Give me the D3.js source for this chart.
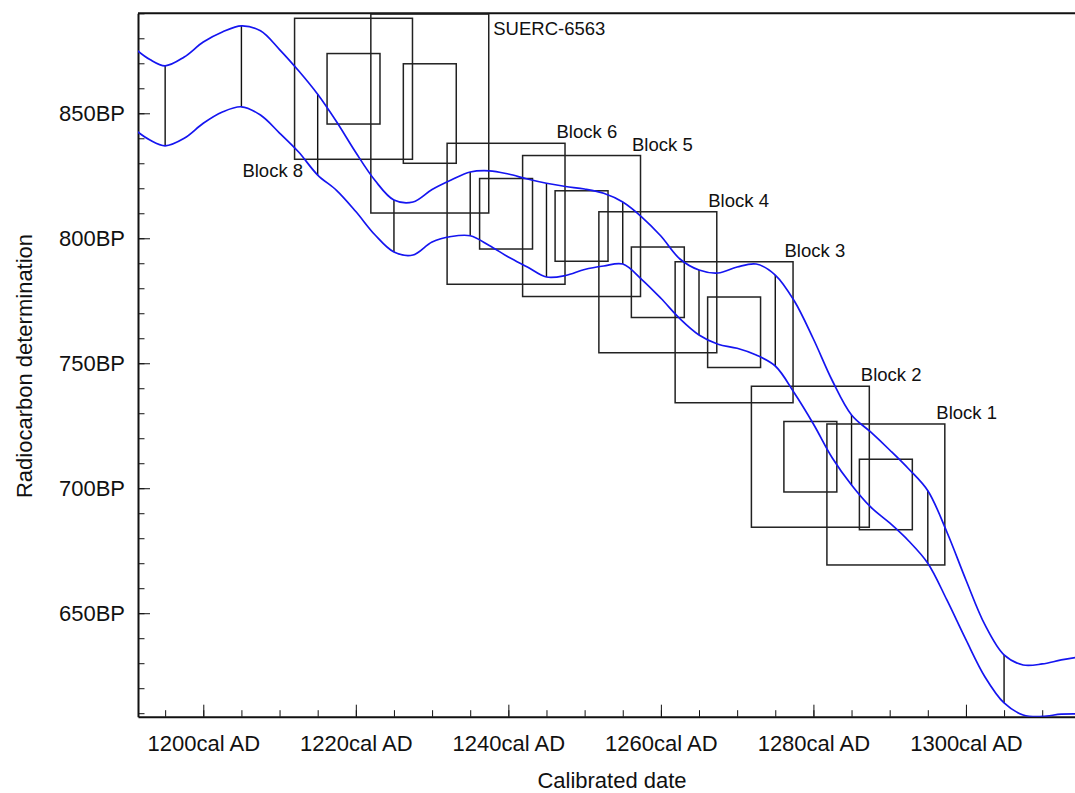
<!DOCTYPE html>
<html>
<head>
<meta charset="utf-8">
<script src="https://cdn.jsdelivr.net/npm/d3@7"></script>
<style>
  body { margin: 0; background: #fff; }
  svg { display: block; font-family: "Liberation Sans", Arial, sans-serif; }
  .axis path, .axis line { stroke: #111; }
  .axis text { font-size: 22px; fill: #111; }
</style>
</head>
<body>
<svg id="chart" width="1075" height="793"></svg>
<script>
// calibration curve envelope (cal AD / BP)
const curveYears = [1191, 1193, 1195, 1197.5, 1200, 1202.5, 1205, 1207.5, 1210, 1212.5, 1215,
    1217.5, 1220, 1222.5, 1225, 1227.5, 1230, 1232.5, 1235, 1237.5, 1240,
    1242.5, 1245, 1247.5, 1250, 1252.5, 1255, 1257.5, 1260, 1262.5, 1265,
    1267.5, 1270, 1272.5, 1275, 1277.5, 1280, 1282.5, 1285, 1287.5, 1290,
    1292.5, 1295, 1297.5, 1300, 1302.5, 1305, 1307.5, 1310, 1312.5, 1315];
const upperBP = [876, 871.5, 869, 872.5, 878.5, 882.5, 885, 883, 875.5, 867, 857.6,
    846.5, 834.3, 823.2, 815.3, 814.5, 819.5, 823.3, 826.5, 827, 825.7,
    823.7, 822, 820.7, 819.7, 818, 814.5, 808.5, 800.9, 791.7, 787.3,
    786.1, 788.5, 789.7, 785.3, 774.9, 759.7, 742.9, 729.3, 722.5, 715.3,
    707.7, 699, 682.5, 663.3, 645.3, 633.3, 629.3, 629.7, 631.3, 632.5];
const lowerBP = [843.5, 839.3, 837, 840, 846, 850.5, 852.6, 849.3, 842.1, 834.5, 825.3,
    819.1, 810.7, 801.4, 794.5, 793.3, 798.5, 800.7, 801, 797.1, 792.5,
    788.5, 784.5, 785.1, 787.5, 788.9, 789.7, 783.5, 776, 767.8, 761.3,
    757.6, 756, 753.3, 748.9, 738.1, 725.7, 712, 701.3, 692.5, 686.1,
    678.9, 670, 655.3, 639.4, 624.5, 614.1, 609.3, 608.7, 609.6, 609.7];
const sectionYears = [1195, 1205, 1215, 1225, 1235, 1245, 1255, 1265, 1275, 1285, 1295, 1305];

// measurement boxes
const boxLabels = ["Block 8", "SUERC-6563", "Block 6", "Block 5", "Block 4", "Block 3", "Block 2", "Block 1"];
const boxYear = [1219.7, 1229.7, 1239.7, 1249.6, 1259.6, 1269.6, 1279.6, 1289.5];
const boxBP = [859.8, 849.9, 809.8, 804.9, 782.4, 762.4, 712.6, 697.5];
const boxErrBP = [14.1, 19.9, 14.1, 14.1, 14.1, 14.1, 14.1, 14.1];
const innerYearHalf = 3.47;
const outerYearHalf = 7.73;
const labelSide = ["belowLeft", "right", "above", "above", "above", "above", "above", "above"];

// ticks
const xMajorTicks = [1200, 1220, 1240, 1260, 1280, 1300];
const xMinorTicks = [1195, 1200, 1205, 1210, 1215, 1220, 1225, 1230, 1235, 1240, 1245, 1250,
    1255, 1260, 1265, 1270, 1275, 1280, 1285, 1290, 1295, 1300, 1305, 1310];
const yMajorTicks = [650, 700, 750, 800, 850];
const yMinorTicks = [610, 620, 630, 640, 650, 660, 670, 680, 690, 700, 710, 720, 730, 740, 750,
    760, 770, 780, 790, 800, 810, 820, 830, 840, 850, 860, 870, 880, 890];

const svg = d3.select("#chart");
const plotLeft = 138, plotRight = 1075, plotTop = 13.3, plotBottom = 716.7;

const x = d3.scaleLinear().domain([1191.44, 1314.3]).range([plotLeft, plotRight]);
const y = d3.scaleLinear().domain([608.6, 890]).range([plotBottom, plotTop]);

svg.append("clipPath").attr("id", "plot")
    .append("rect")
    .attr("x", plotLeft).attr("y", plotTop)
    .attr("width", plotRight - plotLeft).attr("height", plotBottom - plotTop);

// minor ticks first, then major axes with labels
svg.append("g")
    .attr("class", "axis")
    .attr("transform", `translate(0,${plotBottom})`)
    .call(d3.axisBottom(x).tickValues(xMinorTicks).tickSize(-6.5).tickFormat(""))
    .call(g => g.select(".domain").remove());

svg.append("g")
    .attr("class", "axis")
    .attr("transform", `translate(${plotLeft},0)`)
    .call(d3.axisLeft(y).tickValues(yMinorTicks).tickSize(-6.5).tickFormat(""))
    .call(g => g.select(".domain").remove());

svg.append("g")
    .attr("class", "axis")
    .attr("transform", `translate(0,${plotBottom})`)
    .call(d3.axisBottom(x)
        .tickValues(xMajorTicks)
        .tickSizeInner(-12)
        .tickSizeOuter(0)
        .tickPadding(19)
        .tickFormat(d => d + "cal AD"))
    .call(g => g.select(".domain").attr("stroke-width", 2));

svg.append("g")
    .attr("class", "axis")
    .attr("transform", `translate(${plotLeft},0)`)
    .call(d3.axisLeft(y)
        .tickValues(yMajorTicks)
        .tickSizeInner(-12)
        .tickSizeOuter(0)
        .tickPadding(13)
        .tickFormat(d => d + "BP"))
    .call(g => g.select(".domain").attr("stroke-width", 2));

// top frame line
svg.append("line")
    .attr("x1", plotLeft).attr("x2", plotRight)
    .attr("y1", plotTop).attr("y2", plotTop)
    .attr("stroke", "#111")
    .attr("stroke-width", 2);

const plot = svg.append("g").attr("clip-path", "url(#plot)");

// section lines between the two envelopes
plot.append("g")
    .selectAll("line")
    .data(sectionYears)
    .join("line")
    .attr("x1", d => x(d)).attr("x2", d => x(d))
    .attr("y1", d => y(upperBP[curveYears.indexOf(d)]))
    .attr("y2", d => y(lowerBP[curveYears.indexOf(d)]))
    .attr("stroke", "#111")
    .attr("stroke-width", 1.4);

// boxes
const boxes = boxYear.map((yr, i) => ({yr: yr, bp: boxBP[i], err: boxErrBP[i], label: boxLabels[i], side: labelSide[i]}));

const boxG = plot.append("g")
    .attr("fill", "none")
    .attr("stroke", "#222")
    .attr("stroke-width", 1.5);

boxG.selectAll("rect.outer")
    .data(boxes)
    .join("rect")
    .attr("class", "outer")
    .attr("x", d => x(d.yr - outerYearHalf))
    .attr("y", d => y(d.bp + 2 * d.err))
    .attr("width", d => x(d.yr + outerYearHalf) - x(d.yr - outerYearHalf))
    .attr("height", d => y(d.bp - 2 * d.err) - y(d.bp + 2 * d.err));

boxG.selectAll("rect.inner")
    .data(boxes)
    .join("rect")
    .attr("class", "inner")
    .attr("x", d => x(d.yr - innerYearHalf))
    .attr("y", d => y(d.bp + d.err))
    .attr("width", d => x(d.yr + innerYearHalf) - x(d.yr - innerYearHalf))
    .attr("height", d => y(d.bp - d.err) - y(d.bp + d.err));

// calibration curve
const envLine = d3.line()
    .x((d, i) => x(curveYears[i]))
    .y(d => y(d))
    .curve(d3.curveCatmullRom.alpha(0.5));

plot.append("g")
    .selectAll("path")
    .data([upperBP, lowerBP])
    .join("path")
    .attr("d", envLine)
    .attr("fill", "none")
    .attr("stroke", "#1515f0")
    .attr("stroke-width", 1.7);

// box labels
svg.append("g")
    .attr("font-size", 18.5)
    .attr("fill", "#111")
    .selectAll("text")
    .data(boxes)
    .join("text")
    .attr("x", d => {
        if (d.side == "belowLeft") return x(d.yr - outerYearHalf) + 8.5;
        if (d.side == "right") return x(d.yr + outerYearHalf) + 4.5;
        return x(d.yr + outerYearHalf) - 8.5;
    })
    .attr("y", d => {
        if (d.side == "belowLeft") return y(d.bp - 2 * d.err) + 18;
        if (d.side == "right") return y(d.bp + 2 * d.err) + 21;
        return y(d.bp + 2 * d.err) - 5;
    })
    .attr("text-anchor", d => d.side == "belowLeft" ? "end" : "start")
    .text(d => d.label);

// axis titles
svg.append("text")
    .attr("x", 612)
    .attr("y", 788)
    .attr("text-anchor", "middle")
    .attr("font-size", 22)
    .attr("fill", "#111")
    .text("Calibrated date");

svg.append("text")
    .attr("transform", "translate(32,366) rotate(-90)")
    .attr("text-anchor", "middle")
    .attr("font-size", 22)
    .attr("fill", "#111")
    .text("Radiocarbon determination");
</script>
</body>
</html>
